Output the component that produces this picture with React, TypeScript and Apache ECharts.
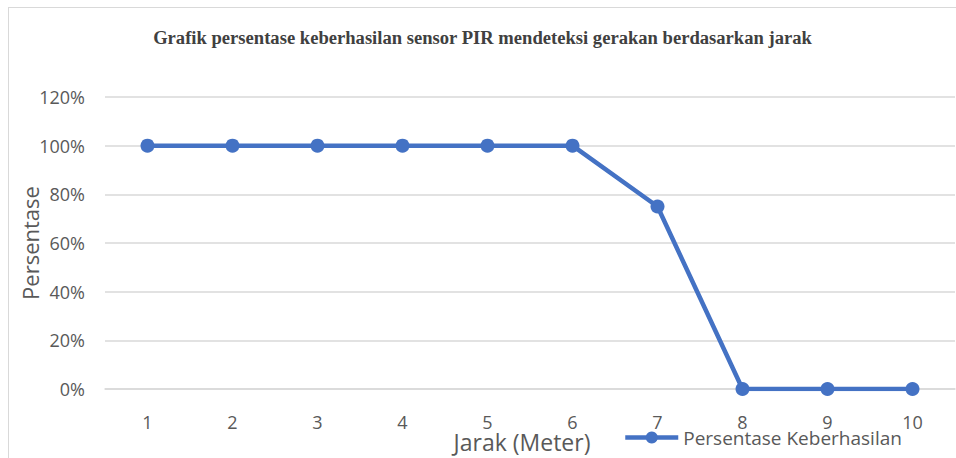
import React, { useEffect, useRef } from "react";
import * as echarts from "echarts";

const categories: string[] = ["1", "2", "3", "4", "5", "6", "7", "8", "9", "10"];
const successRate: number[] = [1, 1, 1, 1, 1, 1, 0.75, 0, 0, 0];
const titleText = "Grafik persentase keberhasilan sensor PIR mendeteksi gerakan berdasarkan jarak";
const seriesName = "Persentase Keberhasilan";
const xAxisName = "Jarak (Meter)";
const yAxisName = "Persentase";

const BLUE = "#4472C4";
const GRID = "#d9d9d9";
const TEXT = "#595959";
const FONT = "'Open Sans', 'Noto Sans', sans-serif";

export default function App() {
  const ref = useRef<HTMLDivElement>(null);
  useEffect(() => {
    if (!ref.current) return;
    const chart = echarts.init(ref.current, undefined, { renderer: "svg" });
    chart.setOption({
      animation: false,
      backgroundColor: "#ffffff",
      title: {
        text: titleText,
        left: "center",
        top: 20,
        padding: 0,
        textStyle: {
          fontFamily: "'Liberation Serif', 'Times New Roman', serif",
          fontWeight: "bold",
          fontSize: 18.6,
          color: "#404040",
        },
      },
      legend: {
        data: [seriesName],
        left: 614,
        top: 420,
        padding: 0,
        itemWidth: 53,
        itemHeight: 15,
        lineStyle: { width: 4.5 },
        textStyle: { fontFamily: FONT, fontSize: 19, color: TEXT },
      },
      grid: {
        left: 96,
        right: 1,
        top: 89,
        bottom: 69,
        containLabel: false,
        outerBoundsMode: "none",
      },
      xAxis: {
        type: "category",
        data: categories,
        boundaryGap: true,
        name: xAxisName,
        nameLocation: "middle",
        nameGap: 41,
        nameMoveOverlap: false,
        nameTextStyle: { fontFamily: FONT, fontSize: 23, color: TEXT, padding: [0, 16, 0, 0] },
        axisLine: { show: true, lineStyle: { color: GRID, width: 1.5 } },
        axisTick: { show: false },
        axisLabel: { margin: 24, fontFamily: FONT, fontSize: 18, color: TEXT },
      },
      yAxis: {
        type: "value",
        min: 0,
        max: 1.2,
        interval: 0.2,
        name: yAxisName,
        nameLocation: "middle",
        nameGap: 64,
        nameMoveOverlap: false,
        nameTextStyle: { fontFamily: FONT, fontSize: 22, color: TEXT },
        axisLine: { show: false },
        axisTick: { show: false },
        splitLine: { lineStyle: { color: GRID, width: 1.5 } },
        axisLabel: {
          margin: 20,
          fontFamily: FONT,
          fontSize: 18,
          color: TEXT,
          formatter: (v: number) => `${Math.round(v * 100)}%`,
        },
      },
      series: [
        {
          name: seriesName,
          type: "line",
          data: successRate,
          symbol: "circle",
          symbolSize: 14,
          lineStyle: { color: BLUE, width: 4.5 },
          itemStyle: { color: BLUE },
        },
      ],
    });
    return () => chart.dispose();
  }, []);
  return (
    <div
      style={{
        position: "fixed",
        left: 8,
        top: 7,
        width: 948,
        height: 451,
        overflow: "hidden",
        boxSizing: "border-box",
        borderLeft: `1px solid ${GRID}`,
        borderTop: `1px solid ${GRID}`,
        background: "#fff",
      }}
    >
      <div ref={ref} style={{ width: 947, height: 450 }} />
    </div>
  );
}
